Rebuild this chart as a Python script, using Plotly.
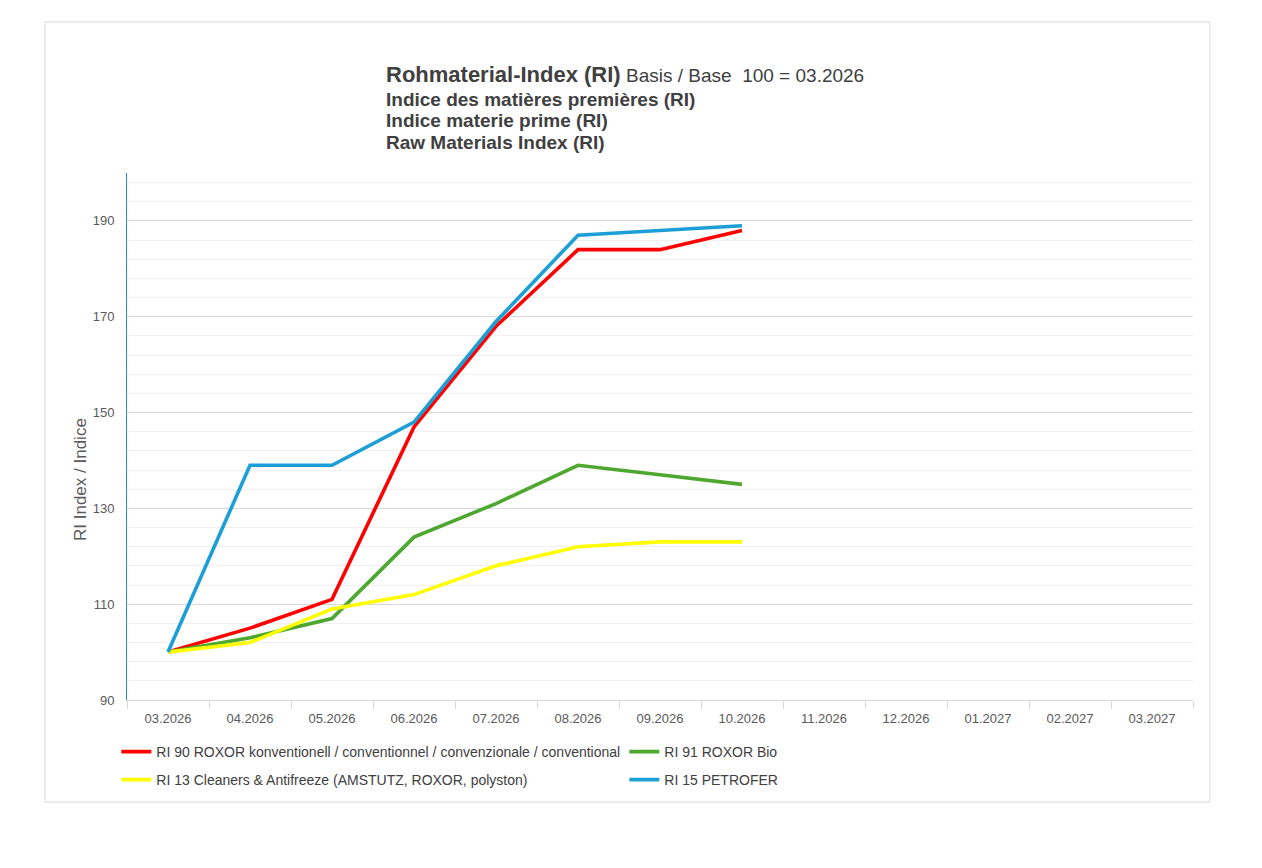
import plotly.graph_objects as go

months = ["03.2026", "04.2026", "05.2026", "06.2026", "07.2026", "08.2026", "09.2026",
          "10.2026", "11.2026", "12.2026", "01.2027", "02.2027", "03.2027"]

ri90_konv = [100, 105, 111, 147, 168, 184, 184, 188]
ri91_bio = [100, 103, 107, 124, 131, 139, 137, 135]
ri13_cleaners = [100, 102, 109, 112, 118, 122, 123, 123]
ri15_petrofer = [100, 139, 139, 148, 169, 187, 188, 189]

y_ticks = [90, 110, 130, 150, 170, 190]

# name, values, colour, legend row
series = [
    ("RI 90 ROXOR konventionell / conventionnel / convenzionale / conventional", ri90_konv, "#FF0000", "legend"),
    ("RI 91 ROXOR Bio", ri91_bio, "#4EA72E", "legend"),
    ("RI 13 Cleaners & Antifreeze (AMSTUTZ, ROXOR, polyston)", ri13_cleaners, "#FFFF00", "legend2"),
    ("RI 15 PETROFER", ri15_petrofer, "#1C9ED6", "legend2"),
]

fig = go.Figure()
for name, vals, col, lg in series:
    fig.add_trace(go.Scatter(
        x=months[:len(vals)], y=vals, name=name, mode="lines",
        line=dict(color=col, width=3.6), legend=lg,
    ))

# the page body has an 8px margin, so the figure is drawn 8px right/down
PL, PT, PW, PH = 119, 165, 1066, 527
txt = "#404040"

def px(x):
    return (x - 127) / PW

def py(y):
    return (700 - y) / PH

leg_common = dict(
    orientation="h", xanchor="left", yanchor="middle",
    entrywidth=463, entrywidthmode="pixels",
    font=dict(size=14, color="#404040"), bgcolor="rgba(0,0,0,0)",
)

fig.update_layout(
    width=1254, height=860,
    margin=dict(l=PL, r=1254 - PL - PW, t=PT, b=860 - PT - PH),
    paper_bgcolor="white", plot_bgcolor="white",
    font=dict(family="Liberation Sans, Arial, sans-serif", color="#595959"),
    showlegend=True,
    legend=dict(x=-0.01, y=py(752), **leg_common),
    legend2=dict(x=-0.01, y=py(780), **leg_common),
)

fig.update_xaxes(
    type="category", categoryorder="array", categoryarray=months,
    range=[-0.5, len(months) - 0.5],
    showgrid=False, showline=True, linecolor="#D9D9D9", linewidth=1,
    ticks="outside", ticklen=8, tickcolor="#D9D9D9", tickson="boundaries",
    tickfont=dict(size=13, color="#595959"), ticklabelstandoff=6,
)
fig.update_yaxes(
    range=[90, 200], tickvals=y_ticks,
    showgrid=True, gridcolor="#D9D9D9", gridwidth=1,
    minor=dict(dtick=4, tick0=90, showgrid=True, gridcolor="#F0F0F0", gridwidth=1),
    showline=True, linecolor="#2E8BC0", linewidth=1,
    zeroline=False,
    tickfont=dict(size=13, color="#595959"),
    ticklabelstandoff=9,
)

# y axis title sits below the middle of the axis, so place it by hand
fig.add_annotation(
    xref="paper", yref="paper", x=px(80), y=py(480),
    xanchor="center", yanchor="middle", showarrow=False, textangle=-90,
    text="RI Index / Indice", font=dict(size=17, color="#595959"),
)

# titles (left aligned block)
fig.add_annotation(
    xref="paper", yref="paper", x=px(384), y=py(75),
    xanchor="left", yanchor="middle", showarrow=False,
    text="<b>Rohmaterial-Index (RI)</b><span style='font-size:19px'> Basis / Base  100 = 03.2026</span>",
    font=dict(size=22, color=txt),
)
for i, line in enumerate(["Indice des matières premières (RI)",
                          "Indice materie prime (RI)",
                          "Raw Materials Index (RI)"]):
    fig.add_annotation(
        xref="paper", yref="paper", x=px(384), y=py(99 + 21.5 * i),
        xanchor="left", yanchor="middle", showarrow=False,
        text="<b>" + line + "</b>", font=dict(size=19, color=txt),
    )

# chart frame
fig.add_shape(
    type="rect", xref="paper", yref="paper",
    x0=px(45), x1=px(1210), y0=py(802), y1=py(22),
    line=dict(color="#D9D9D9", width=1), fillcolor="rgba(0,0,0,0)", layer="below",
)

fig.write_html("out.html")
